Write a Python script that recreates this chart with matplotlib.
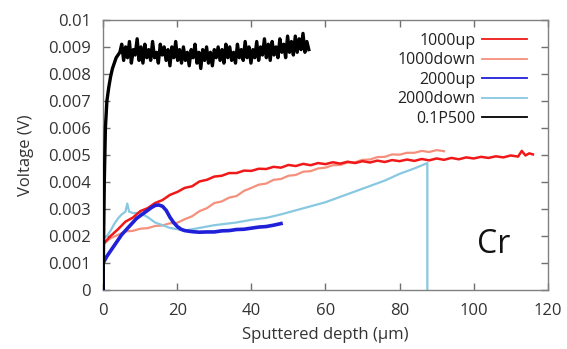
import numpy as np
import matplotlib
matplotlib.use("Agg")
import matplotlib.pyplot as plt

plt.rcParams['font.family'] = ['Open Sans', 'DejaVu Sans']

# ---------------- data (voltage in units of 1e-4 V) ----------------
up1000_x = [0, 2, 4, 6, 8, 10, 12, 14, 16, 18, 20, 22, 24, 26, 28, 30, 32, 34, 36, 38,
            40, 42, 44, 46, 48, 50, 52, 54, 56, 58, 60, 62, 64, 66, 68, 70, 72, 74, 76, 78,
            80, 82, 84, 86, 88, 90, 92, 94, 96, 98, 100, 102, 104, 106, 108, 110, 112, 113, 114, 115, 116]
up1000_y = [17, 20, 22.5, 25.3, 26.8, 29.2, 30.3, 32.2, 33.3, 35.2, 36.3, 37.8, 38.4, 40.2, 40.8, 42.0, 42.3, 43.3, 43.3, 44.2,
            44.1, 44.9, 44.8, 45.6, 45.3, 46.3, 45.9, 46.7, 46.2, 47.0, 46.6, 47.3, 46.8, 47.5, 47.0, 47.7, 47.2, 47.9, 47.4, 48.1,
            47.7, 48.3, 47.8, 48.5, 48.0, 48.7, 48.2, 48.9, 48.4, 49.1, 48.7, 49.3, 48.9, 49.5, 49.1, 49.8, 49.4, 51.5, 49.8, 50.6, 50.2]

down1000_x = [0, 2, 4, 6, 8, 10, 12, 14, 16, 18, 20, 22, 24, 26, 28, 30, 32, 34, 36, 38,
              40, 42, 44, 46, 48, 50, 52, 54, 56, 58, 60, 62, 64, 66, 68, 70, 72, 74, 76, 78,
              80, 82, 84, 86, 88, 90, 92]
down1000_y = [17, 19.2, 20.4, 21.7, 21.9, 22.7, 22.9, 23.7, 23.9, 24.7, 24.9, 26.2, 27.3, 29.2, 30.3, 32.2, 32.8, 34.2, 34.8, 36.7,
              37.8, 39.0, 39.4, 40.8, 41.1, 42.3, 42.6, 43.8, 44.0, 45.0, 45.3, 46.2, 46.3, 47.2, 47.3, 48.2, 48.3, 49.2, 49.3, 50.2,
              50.1, 50.8, 50.8, 51.5, 51.1, 51.8, 51.4]

up2000_x = [0, 0, 1, 2, 3, 4, 5, 6, 7, 8, 9, 10, 11, 12, 13, 14, 15, 16, 17, 18, 19, 20, 21, 22,
            24, 26, 28, 30, 32, 34, 36, 38, 40, 42, 44, 46, 48]
up2000_y = [0, 10, 12.5, 14.5, 16.5, 18.5, 20.5, 22, 23.5, 25, 26.5, 27.5, 28.5, 29.5, 30.5, 31.3, 31.5, 31, 29.5, 27, 25, 23.5, 22.5, 22,
            21.6, 21.4, 21.5, 21.5, 21.9, 22, 22.4, 22.5, 22.9, 23.3, 23.5, 24, 24.6]

down2000_x = [0, 1, 2, 3, 4, 5, 6, 6.5, 7, 8, 9, 10, 12, 14, 16, 18, 20, 22, 24, 26, 28, 30, 33, 36,
              40, 44, 48, 52, 56, 60, 64, 68, 72, 76, 80, 84, 87.5, 87.5]
down2000_y = [19, 20, 22, 24.5, 26.5, 28, 29, 32, 29, 28.5, 28.5, 28.5, 27, 25, 24, 23, 22.5, 22, 22.5, 23, 23.5, 24, 24.5, 25,
              26, 26.7, 28, 29.5, 31, 32.5, 34.5, 36.5, 38.5, 40.5, 43, 45, 47, 0]

p500_start_x = [0, 0, 0.3, 0.6, 1.0, 1.5, 2.0, 2.5, 3.0, 3.5, 4.0, 4.5]
p500_start_y = [0, 5, 40, 60, 70, 75, 79, 82, 84, 86, 87, 88]
p500_band_y = [91, 85, 90, 86, 92, 84, 89, 87, 93, 85, 90, 84, 91, 86, 89, 85, 92, 86, 88, 84, 91, 87, 90, 85, 89, 83, 90, 86, 92, 85, 89,
               84, 90, 85, 88, 83, 89, 86, 91, 84, 88, 82, 89, 85, 90, 84, 88, 83, 89, 86,
               90, 85, 89, 84, 91, 86, 90, 85, 88, 84, 91, 86, 89, 85, 92, 86, 90, 84, 89,
               86, 92, 85, 90, 87, 93, 86, 91, 85, 92, 87, 90, 86, 93, 88, 91, 86, 94, 88,
               92, 87, 94, 88, 93, 89, 95, 88, 92, 89]
p500_band_start, p500_band_end = 5.0, 55.5

labels = ['1000up', '1000down', '2000up', '2000down', '0.1P500']
colors = ['#f01818', '#f4907c', '#2020d8', '#88c8e0', '#000000']

x_ticks = [0, 20, 40, 60, 80, 100, 120]
y_ticks = [0, 0.001, 0.002, 0.003, 0.004, 0.005, 0.006, 0.007, 0.008, 0.009, 0.01]
y_tick_labels = ['0', '0.001', '0.002', '0.003', '0.004', '0.005', '0.006', '0.007', '0.008', '0.009', '0.01']

scale = 1e-4

# ---------------- figure ----------------
fig = plt.figure(figsize=(5.67, 3.49), dpi=100)
ax = fig.add_axes([0.182, 0.169, 0.784, 0.774])

p500_x = list(p500_start_x) + list(np.linspace(p500_band_start, p500_band_end, len(p500_band_y)))
p500_y = list(p500_start_y) + list(p500_band_y)

ax.plot(up1000_x, np.array(up1000_y) * scale, color=colors[0], lw=1.8, label=labels[0], zorder=3)
ax.plot(down1000_x, np.array(down1000_y) * scale, color=colors[1], lw=1.6, label=labels[1], zorder=2)
ax.plot(up2000_x, np.array(up2000_y) * scale, color=colors[2], lw=2.6, label=labels[2], zorder=4)
ax.plot(down2000_x, np.array(down2000_y) * scale, color=colors[3], lw=1.6, label=labels[3], zorder=2)
ax.plot(p500_x, np.array(p500_y) * scale, color=colors[4], lw=2.4, label=labels[4], zorder=5)

ax.set_xlim(0, 120)
ax.set_ylim(0, 0.01)
ax.set_xticks(x_ticks)
ax.set_xticklabels([str(t) for t in x_ticks])
ax.set_yticks(y_ticks)
ax.set_yticklabels(y_tick_labels)

ax.tick_params(direction='in', length=5, width=1, color='#707070',
               top=True, right=True, labelsize=12, labelcolor='#333333')
ax.tick_params(axis='y', pad=9)
ax.tick_params(axis='x', pad=9)
for s in ax.spines.values():
    s.set_color('#808080')
    s.set_linewidth(1.0)

ax.set_xlabel('Sputtered depth (µm)', fontsize=12, color='#333333', labelpad=6)
ax.set_ylabel('Voltage (V)', fontsize=12, color='#333333', labelpad=10)

leg = ax.legend(loc='upper right', frameon=False, markerfirst=False, fontsize=11.5,
                handlelength=2.8, handletextpad=0.4, labelspacing=0.22,
                bbox_to_anchor=(0.985, 1.005))
for line in leg.get_lines():
    line.set_linewidth(1.3)
for t in leg.get_texts():
    t.set_color('#222222')

ax.text(101, 0.0017, 'Cr', fontsize=23, color='#111111', va='center', ha='left')

fig.savefig('out.png', dpi=100)
